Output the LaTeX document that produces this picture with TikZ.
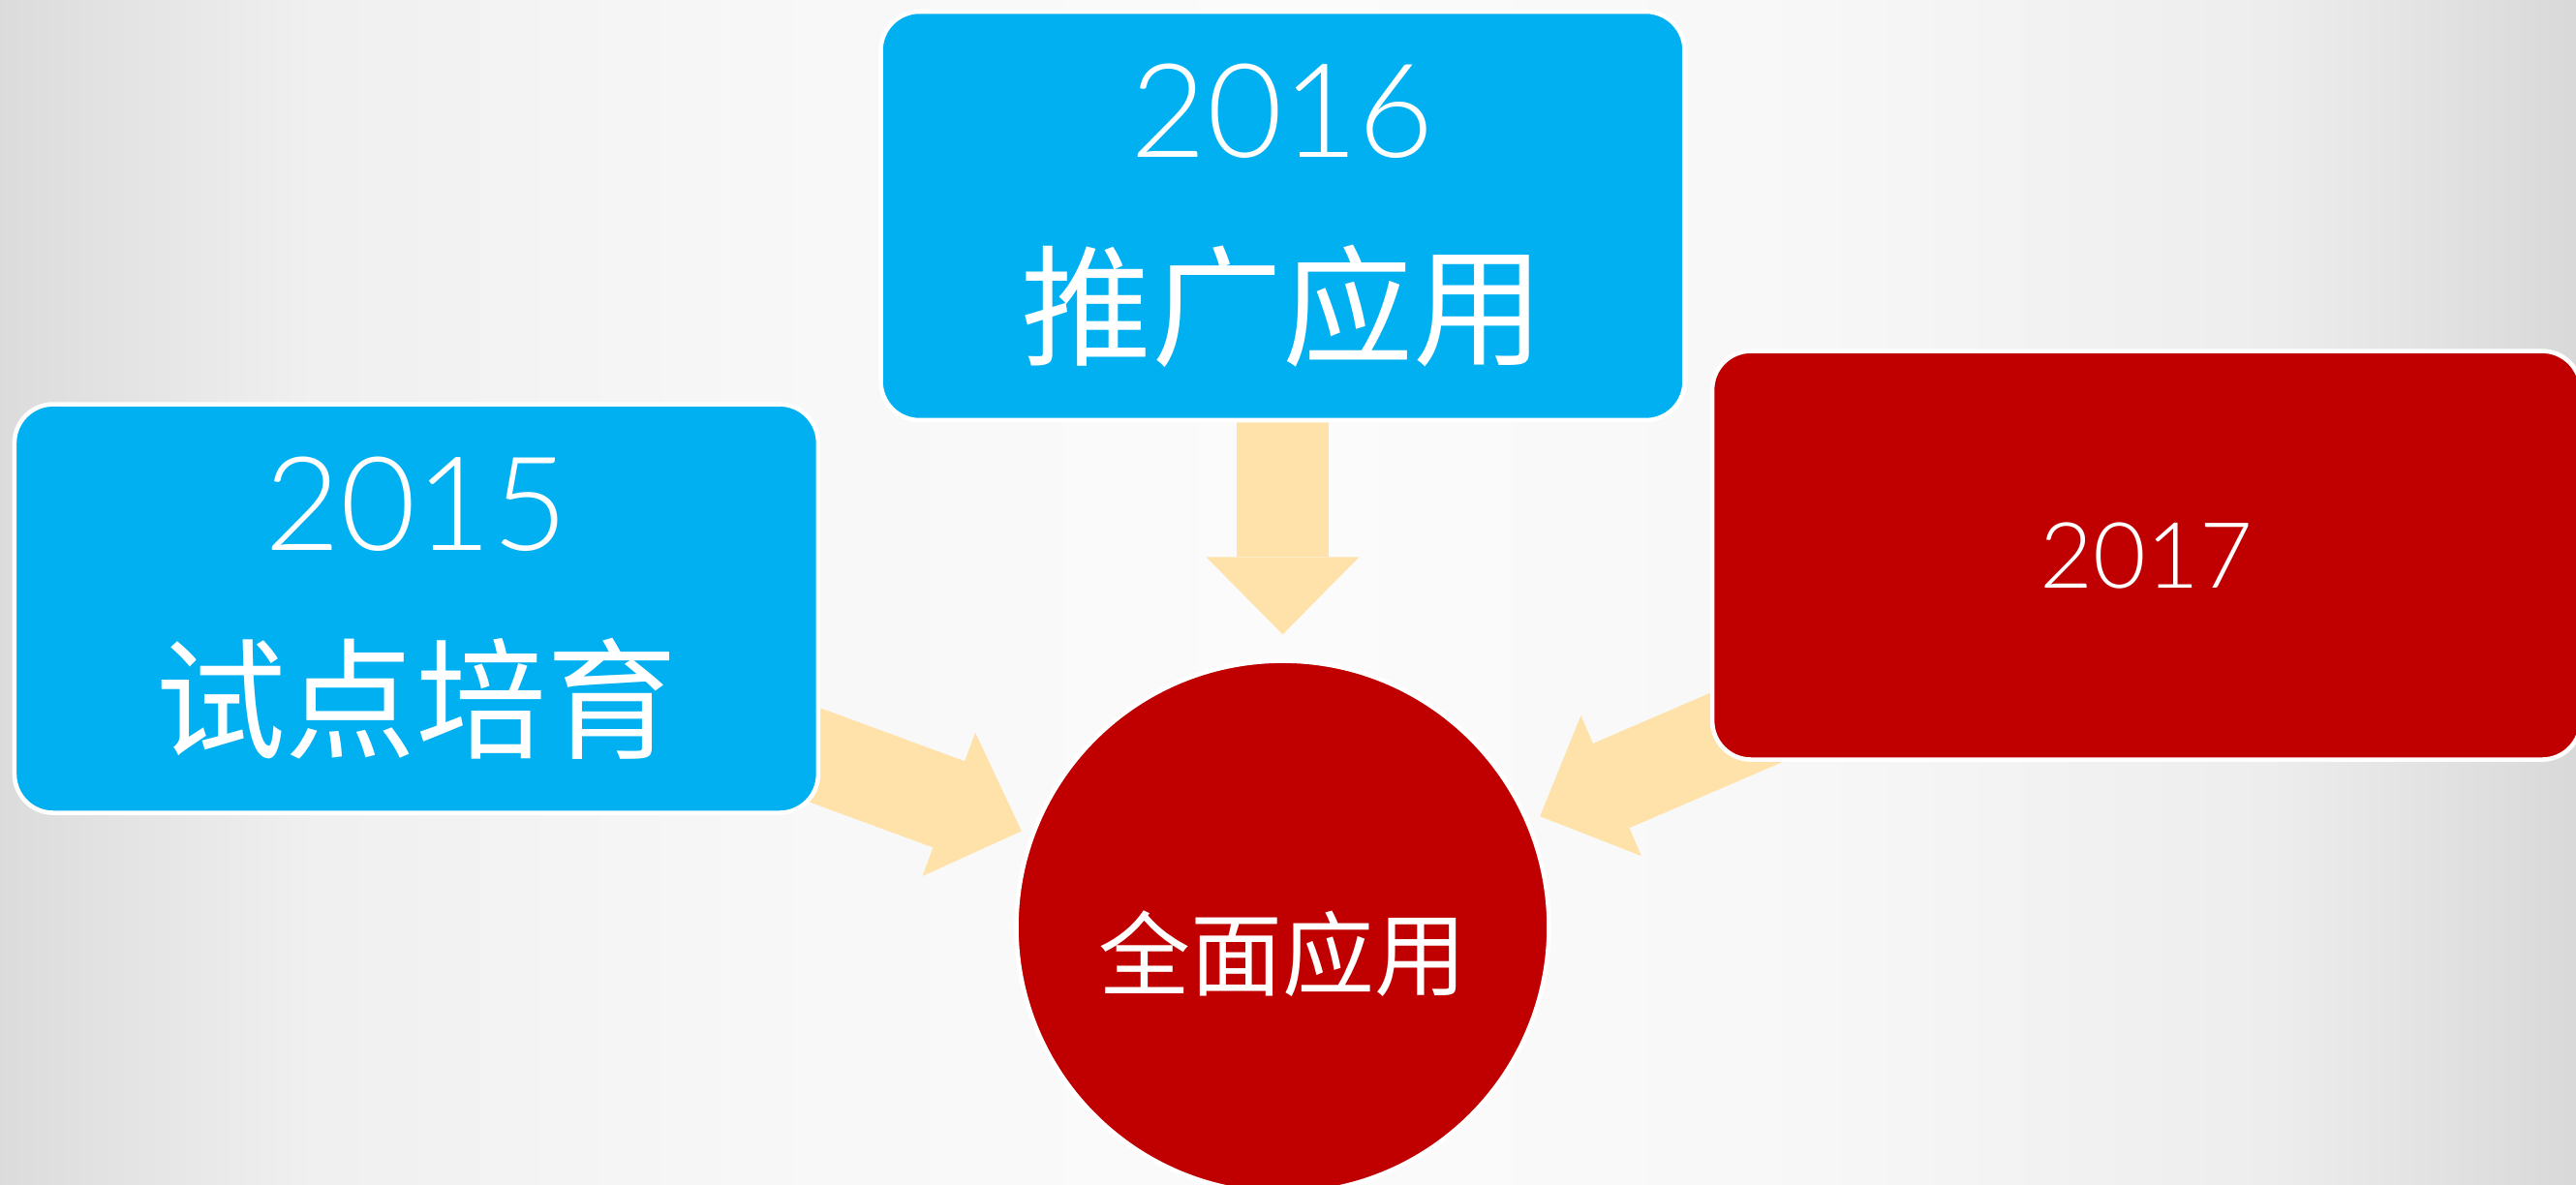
\documentclass[tikz,border=0pt]{standalone}
\usepackage{fontspec}
\usepackage{xcolor}
\usepackage{tikz}
\usetikzlibrary {arrows.meta,
                 positioning}
\newfontfamily\cjk{Noto Sans CJK SC}
\newfontfamily\yearfont{Lato Light}
\definecolor{boxblue}{HTML}{00B0F0}
\definecolor{boxred}{HTML}{C00000}
\definecolor{peach}{HTML}{FFE2AA}
\pgfdeclarelayer{bg}
\pgfdeclarelayer{arrowlayer}
\pgfsetlayers{bg,arrowlayer,main}
\pgfdeclarehorizontalshading{bgshade}{100bp}{color(0bp)=(black!14); color(25bp)=(black!14);
  color(31bp)=(black!6); color(40bp)=(black!3); color(50bp)=(black!1.5);
  color(60bp)=(black!3); color(69bp)=(black!7); color(75bp)=(black!15);
  color(100bp)=(black!15)}
\tikzset{
        base/.style={draw=white, line width=1.3pt, text=white, align=center},
        yearbox/.style={base, rectangle, rounded corners=0.4cm, fill=boxblue,
                        minimum width=8.3cm, minimum height=4.22cm,
                        font=\fontsize{38.4}{58.3}\selectfont},
        lastyear/.style={yearbox, fill=boxred, minimum width=8.97cm,
                         font=\fontsize{26.9}{32}\selectfont},
        goal/.style={base, circle, fill=boxred, minimum size=5.5cm, inner sep=0pt,
                     font=\cjk\fontsize{27}{32}\selectfont,
                     text height=1.28cm, text depth=0cm},
        myarrow/.style={draw=peach, line width=0.95cm,
                        -{Triangle[length=8mm 0 0, width=15.8mm 0 0, line width=0pt 0 0]}},
 }

\begin{document}
\begin{tikzpicture}
    \useasboundingbox (0,0) rectangle (26.6,-12.24);
    \begin{pgfonlayer}{bg}
        \shade[shading=bgshade] (0,0) rectangle (26.6,-12.24);
    \end{pgfonlayer}

    \node[yearbox] (a) at (13.245,-2.23) {{\yearfont 2016}\\{\cjk 推广应用}};
    \node[goal, below=2.44cm of a] (b) {全面应用};
    \node[yearbox, below left=-0.21cm and 0.6cm of a] (c) {{\yearfont 2015}\\{\cjk 试点培育}};
    \node[lastyear, below right=-0.76cm and 0.24cm of a] (d) {{\yearfont 2017}};

    \begin{pgfonlayer}{arrowlayer}
        \draw[myarrow, shorten >=0.25cm] (a.center) -- (b);
        \draw[myarrow, shorten >=0.1cm] (c.center) -- (b);
        \draw[myarrow, shorten >=0.12cm] (d.center) -- (b);
    \end{pgfonlayer}
\end{tikzpicture}
\end{document}
